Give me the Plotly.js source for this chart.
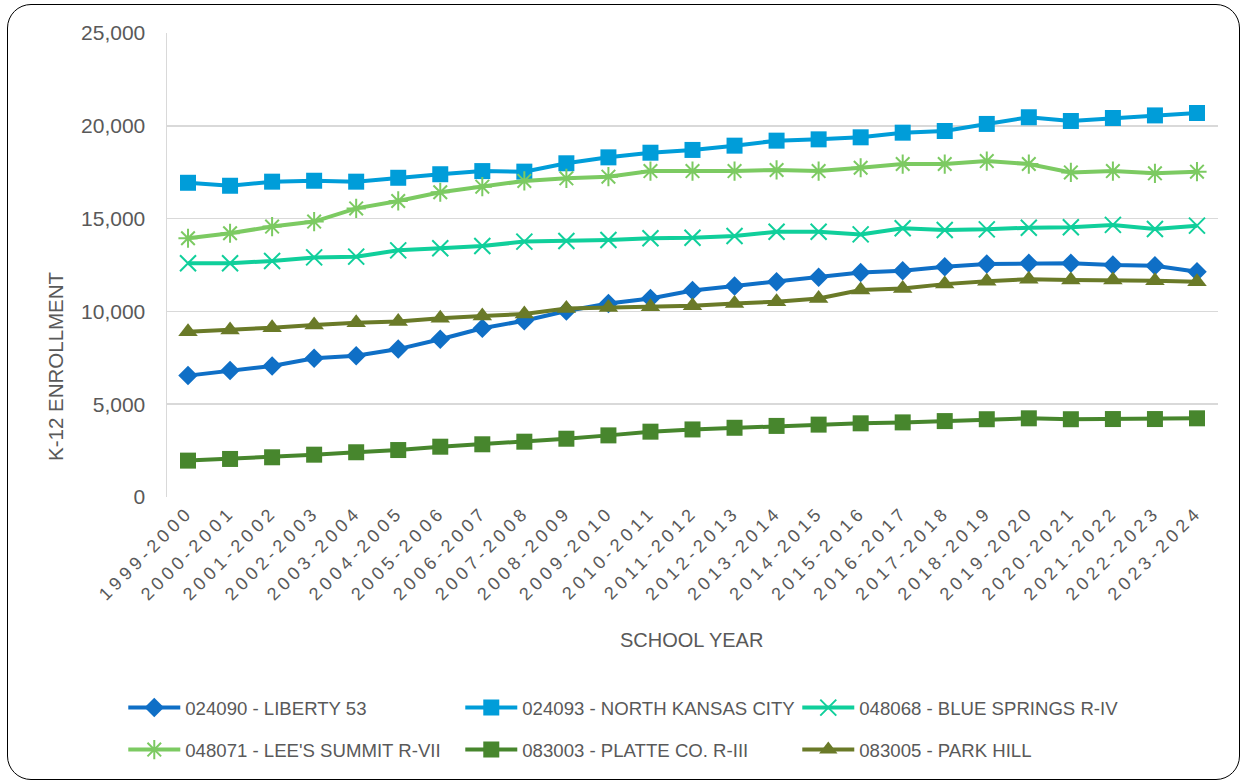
<!DOCTYPE html>
<html>
<head>
<meta charset="utf-8">
<script src="https://cdn.plot.ly/plotly-3.0.1.min.js"></script>
<style>
  html, body { margin: 0; padding: 0; background: #fff; }
  #wrap { position: relative; width: 1243px; height: 782px; overflow: hidden; }
  #chart { position: absolute; left: 0; top: 0; width: 1243px; height: 782px; }
  #frame { position: absolute; left: 7px; top: 4px; width: 1233px; height: 776px; box-sizing: border-box;
           border: 1.5px solid #000; border-radius: 24px; pointer-events: none; }
  #chart .xtick text { letter-spacing: 4.3px; }
</style>
</head>
<body>
<div id="wrap">
  <div id="chart"></div>
  <div id="frame"></div>
</div>
<script>
const schoolYears = ["1999-2000","2000-2001","2001-2002","2002-2003","2003-2004","2004-2005","2005-2006",
  "2006-2007","2007-2008","2008-2009","2009-2010","2010-2011","2011-2012","2012-2013","2013-2014",
  "2014-2015","2015-2016","2016-2017","2017-2018","2018-2019","2019-2020","2020-2021","2021-2022",
  "2022-2023","2023-2024"];

const liberty53 = [6540,6810,7060,7470,7610,7970,8500,9090,9500,10020,10430,10700,11130,11370,11600,
  11840,12090,12190,12410,12550,12590,12590,12500,12460,12140];
const northKansasCity = [16930,16770,16990,17040,16990,17200,17390,17560,17530,17980,18300,18550,18700,
  18930,19200,19270,19380,19630,19720,20100,20460,20260,20420,20560,20690];
const blueSprings = [12590,12590,12720,12910,12950,13290,13400,13520,13760,13790,13850,13940,13970,
  14060,14290,14290,14150,14480,14390,14420,14510,14530,14660,14440,14620];
const leesSummit = [13940,14210,14570,14840,15550,15950,16420,16720,17030,17170,17260,17560,17560,
  17560,17620,17560,17740,17940,17940,18100,17940,17490,17560,17440,17530];
const platteCo = [1960,2050,2140,2280,2410,2530,2710,2840,2980,3140,3320,3520,3640,3730,3830,3900,
  3970,4020,4090,4190,4240,4190,4200,4200,4240];
const parkHill = [8910,9000,9120,9270,9390,9450,9630,9750,9860,10160,10210,10250,10300,10430,10520,
  10700,11150,11240,11470,11630,11730,11690,11690,11650,11600];

const seriesNames = ["024090 - LIBERTY 53","024093 - NORTH KANSAS CITY","048068 - BLUE SPRINGS R-IV",
  "048071 - LEE'S SUMMIT R-VII","083003 - PLATTE CO. R-III","083005 - PARK HILL"];
const seriesValues = [liberty53, northKansasCity, blueSprings, leesSummit, platteCo, parkHill];
const seriesColors = ["#0F6FC6","#009DD9","#10CF9B","#7CCA62","#47862D","#6A7A28"];
const seriesSymbols = ["diamond","square","x-thin-open","asterisk-open","square","triangle-up"];
const symbolSizes = [15,16,16,16,16,17];
const legendIds = ["legend","legend","legend","legend2","legend2","legend2"];

const xTitle = "SCHOOL YEAR";
const yTitle = "K-12 ENROLLMENT";

const FONT = "Liberation Sans, Arial, sans-serif";
const TXT = "#595959";

const traces = seriesNames.map((name, i) => ({
  type: "scatter",
  mode: "lines+markers",
  name: name,
  x: schoolYears,
  y: seriesValues[i],
  legend: legendIds[i],
  line: { color: seriesColors[i], width: 4 },
  marker: {
    symbol: seriesSymbols[i],
    size: symbolSizes[i],
    color: seriesColors[i],
    line: { color: seriesColors[i], width: (seriesSymbols[i].indexOf("open") >= 0) ? 2 : 0 }
  }
}));

const legendCommon = {
  orientation: "h",
  xanchor: "left",
  yanchor: "middle",
  x: -0.0416,
  entrywidth: 270,
  entrywidthmode: "pixels",
  itemwidth: 52,
  font: { family: FONT, size: 18.6, color: TXT },
  bgcolor: "rgba(0,0,0,0)",
  traceorder: "normal"
};

const layout = {
  width: 1243,
  height: 782,
  margin: { l: 167, r: 25, t: 33, b: 285 },
  paper_bgcolor: "#ffffff",
  plot_bgcolor: "#ffffff",
  showlegend: true,
  font: { family: FONT, color: TXT },
  xaxis: {
    type: "category",
    range: [-0.5, 24.5],
    tickangle: -45,
    showgrid: false,
    showline: false,
    zeroline: false,
    ticks: "",
    tickfont: { family: FONT, size: 18, color: TXT }
  },
  yaxis: {
    range: [0, 25000],
    dtick: 5000,
    tickformat: ",",
    showgrid: true,
    gridcolor: "#D9D9D9",
    gridwidth: 1.5,
    showline: true,
    linecolor: "#D9D9D9",
    linewidth: 1.5,
    zeroline: false,
    ticks: "",
    ticklabelstandoff: 16,
    tickfont: { family: FONT, size: 21, color: TXT }
  },
  annotations: [
    { text: xTitle, xref: "paper", yref: "paper", x: 0.4995, y: (497 - 640) / 464,
      xanchor: "center", yanchor: "middle", showarrow: false,
      font: { family: FONT, size: 20, color: TXT } },
    { text: yTitle, xref: "paper", yref: "paper", x: (55 - 167) / 1051, y: (497 - 366) / 464,
      xanchor: "center", yanchor: "middle", showarrow: false, textangle: -90,
      font: { family: FONT, size: 20.5, color: TXT } }
  ],
  legend: Object.assign({}, legendCommon, { y: (782 - 708 - 285) / 464 }),
  legend2: Object.assign({}, legendCommon, { y: (782 - 750 - 285) / 464 })
};

Plotly.newPlot("chart", traces, layout, { staticPlot: true, displayModeBar: false });
</script>
</body>
</html>
